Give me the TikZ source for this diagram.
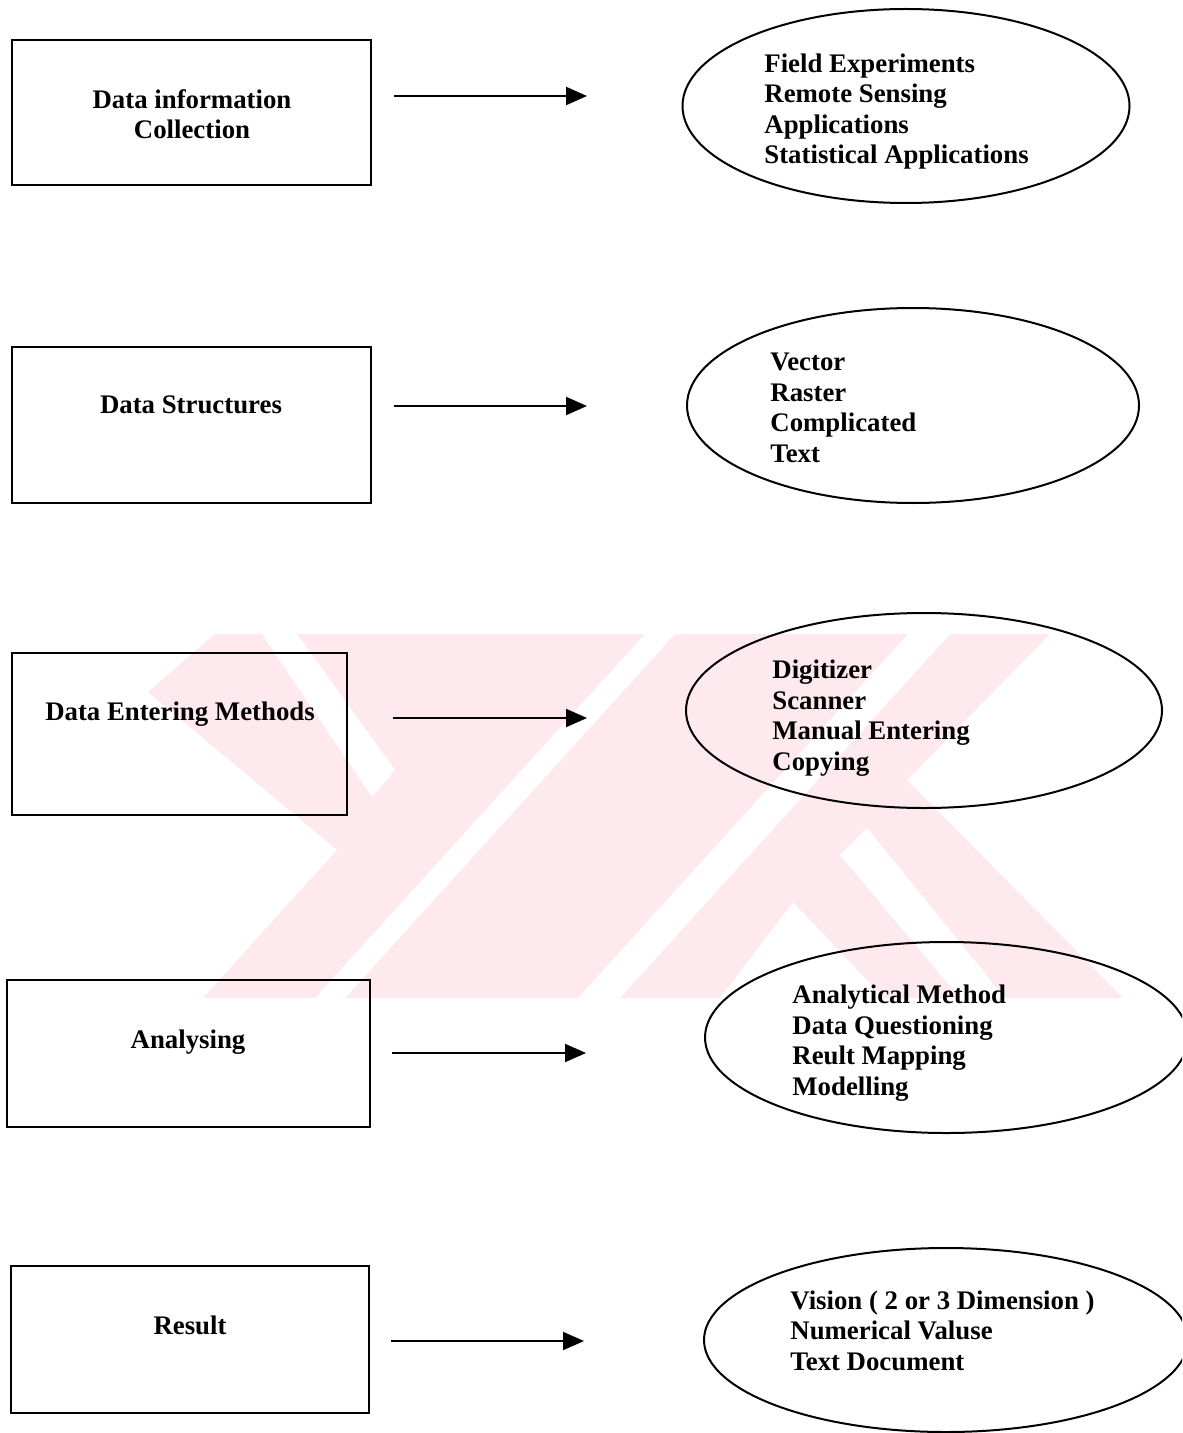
\documentclass[tikz,border=0pt]{standalone}
\usepackage{fontspec}
\setmainfont{Liberation Serif}
\usetikzlibrary{shapes.geometric,arrows.meta}
\definecolor{wmpink}{RGB}{253,233,238}
\begin{document}
\begin{tikzpicture}[x=0.5pt,y=-0.5pt,
  box/.style={draw, line width=1pt, rectangle, inner sep=0pt, outer sep=0pt},
  oval/.style={draw, line width=1pt, ellipse, inner sep=0pt, outer sep=0pt},
  boxtext/.style={font=\bfseries\fontsize{13.4pt}{15.25pt}\selectfont, align=center, anchor=base, inner sep=0pt},
  listtext/.style={font=\bfseries\fontsize{13.4pt}{15.25pt}\selectfont, align=left, anchor=base west, inner sep=0pt},
  flow/.style={line width=1pt, -{Triangle[length=10.5pt,width=9pt]}}]
\useasboundingbox (0,0) rectangle (1182,1433);
\clip (0,0) rectangle (1182,1433);

% background emblem
\fill[wmpink] (215,634) -- (1050,634) -- (907,780) -- (1123,998) -- (884,998)
  -- (793,902) -- (720,998) -- (203,998) -- (337,850) -- (148,692) -- cycle;
\fill[white] (262,634) -- (297,634) -- (395,770) -- (372,797) -- cycle;
\fill[white] (315,998) -- (345,998) -- (675,634) -- (645,634) -- cycle;
\fill[white] (578,998) -- (620,998) -- (950,634) -- (908,634) -- cycle;
\fill[white] (840,855) -- (867,828) -- (1005,998) -- (960,998) -- cycle;

% stages
\node[box, minimum width=179.5pt, minimum height=72.5pt] (b1) at (191.5,112.5) {};
\node[box, minimum width=179.5pt, minimum height=78pt]   (b2) at (191.5,425) {};
\node[box, minimum width=167.5pt, minimum height=81pt]   (b3) at (179.5,734) {};
\node[box, minimum width=181.5pt, minimum height=73.5pt] (b4) at (188.5,1053.5) {};
\node[box, minimum width=179pt,   minimum height=73.5pt] (b5) at (190,1339.5) {};

% multi-line texts are placed by the baseline of their last line
\node[boxtext] (t1) at (192,139) {Data information\\Collection};
\node[boxtext] (t2) at (191,413) {Data Structures};
\node[boxtext] (t3) at (180,720) {Data Entering Methods};
\node[boxtext] (t4) at (188,1048) {Analysing};
\node[boxtext] (t5) at (190,1334) {Result};

% details of each stage
\node[oval, minimum width=223.5pt, minimum height=97pt]   (e1) at (906,106) {};
\node[oval, minimum width=226pt,   minimum height=97.5pt] (e2) at (913,405.5) {};
\node[oval, minimum width=238pt,   minimum height=97.5pt] (e3) at (924,710.5) {};
\node[oval, minimum width=241.5pt, minimum height=95.5pt] (e4) at (946.5,1037.5) {};
\node[oval, minimum width=242pt,   minimum height=92pt]   (e5) at (946,1340) {};

\node[listtext] (l1) at (764,164) {Field Experiments\\Remote Sensing\\Applications\\Statistical Applications};
\node[listtext] (l2) at (770,462) {Vector\\Raster\\Complicated\\Text};
\node[listtext] (l3) at (772,770) {Digitizer\\Scanner\\Manual Entering\\Copying};
\node[listtext] (l4) at (792,1095) {Analytical Method\\Data Questioning\\Reult Mapping\\Modelling};
\node[listtext] (l5) at (790,1370) {Vision ( 2 or 3 Dimension )\\Numerical Valuse\\Text Document};

% arrows
\coordinate (a1s) at (394,96);   \coordinate (a1e) at (587,96);
\coordinate (a2s) at (394,406);  \coordinate (a2e) at (587,406);
\coordinate (a3s) at (393,718);  \coordinate (a3e) at (587,718);
\coordinate (a4s) at (392,1053); \coordinate (a4e) at (586,1053);
\coordinate (a5s) at (391,1341); \coordinate (a5e) at (584,1341);
\draw[flow] (a1s) -- (a1e);
\draw[flow] (a2s) -- (a2e);
\draw[flow] (a3s) -- (a3e);
\draw[flow] (a4s) -- (a4e);
\draw[flow] (a5s) -- (a5e);
\end{tikzpicture}
\end{document}
